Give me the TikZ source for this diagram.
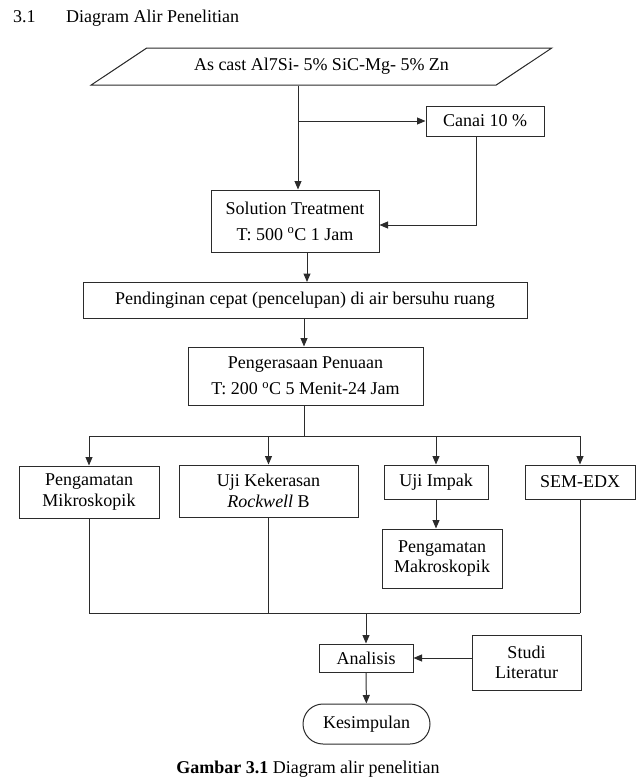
\documentclass[tikz,border=0pt]{standalone}
\usepackage{fontspec}
\setmainfont{Liberation Serif}
\usetikzlibrary{arrows.meta,shapes.geometric,shapes.misc}
\definecolor{ink}{HTML}{2B2B2B}
\tikzset{
  >={Triangle[length=8.5pt,width=7pt]},
  proc/.style   ={draw=ink,line width=1pt,fill=white,
                  font=\fontsize{18}{20.5}\selectfont,align=center,inner sep=0pt},
  procwide/.style={proc,font=\fontsize{18}{26}\selectfont},
  io/.style     ={proc,trapezium,trapezium left angle=22,
                  trapezium right angle=158,trapezium stretches=true},
  term/.style   ={proc,rounded rectangle},
  lbl/.style    ={font=\fontsize{18}{20.5}\selectfont,inner sep=0pt},
  flow/.style   ={->,draw=ink,line width=1pt},
  link/.style   ={draw=ink,line width=1pt},
}

\begin{document}
\begin{tikzpicture}[x=1pt,y=-1pt]
\useasboundingbox (0,0) rectangle (644,779);
\clip (0,0) rectangle (644,779);
%---------------- heading
\node[lbl,anchor=base west] (num) at (13,22) {3.1};
\node[lbl,anchor=base west] (ttl) at (66,22) {Diagram Alir Penelitian};
%---------------- upper chain
\node[io,minimum width=463pt,minimum height=37pt] (src) at (321.5,66.5) {As cast Al7Si- 5\% SiC-Mg- 5\% Zn};
\node[proc,minimum width=118pt,minimum height=30pt] (canai) at (485,121) {Canai 10 \%};
\node[procwide,minimum width=168pt,minimum height=62pt] (sol) at (295,221) {Solution Treatment\\T: 500 \textsuperscript{o}C 1 Jam};
\node[proc,minimum width=444pt,minimum height=36pt] (cool) at (305,300.5) {Pendinginan cepat (pencelupan) di air bersuhu ruang};
\node[procwide,minimum width=235pt,minimum height=58pt] (age) at (305.5,376) {Pengerasaan Penuaan\\T: 200 \textsuperscript{o}C 5 Menit-24 Jam};
\coordinate (j1) at (298,121);
\coordinate (j2) at (476,225);
\draw[flow] (src.south -| j1) -- (sol.north -| j1);
\draw[flow] (j1) -- (canai.west);
\draw[flow] (canai.south -| j2) -- (j2) -- (sol.east |- j2);
\draw[flow] (sol.south -| 307,0) -- (cool.north -| 307,0);
\draw[flow] (cool.south -| 304,0) -- (age.north -| 304,0);
%---------------- tests
\node[proc,minimum width=140pt,minimum height=52pt] (micro) at (89,492) {Pengamatan\\Mikroskopik};
\node[proc,minimum width=179pt,minimum height=52pt] (rockwell) at (268.5,491) {Uji Kekerasan\\\textit{Rockwell} B};
\node[proc,minimum width=104pt,minimum height=34pt] (impact) at (436,482) {Uji Impak};
\node[proc,minimum width=110pt,minimum height=34pt] (sem) at (580,482) {SEM-EDX};
\node[proc,minimum width=120pt,minimum height=59pt] (macro) at (442,558.5) {Pengamatan\\Makroskopik};
\coordinate (bL) at (89,436);
\coordinate (bR) at (580,436);
\draw[link] (age.south -| 304,0) -- (304,436);
\draw[link] (bL) -- (bR);
\foreach \n in {micro,rockwell,impact,sem}
  \draw[flow] (\n.north |- bL) -- (\n.north);
\draw[flow] (impact.south) -- (impact.south |- macro.north);
%---------------- collect
\coordinate (cL) at (89,613);
\coordinate (cR) at (580,613);
\foreach \n in {micro,rockwell,sem}
  \draw[link] (\n.south) -- (\n.south |- cL);
\draw[link] (cL) -- (cR);
\node[proc,minimum width=94pt,minimum height=28pt] (ana) at (366,658) {Analisis};
\node[proc,minimum width=109pt,minimum height=55pt] (studi) at (526.5,662.5) {Studi\\Literatur};
\node[term,minimum width=127pt,minimum height=40pt] (kes) at (366.5,724) {Kesimpulan};
\draw[flow] (ana.north |- cL) -- (ana.north);
\draw[flow] (studi.west |- ana) -- (ana.east);
\draw[flow] (ana) -- (kes);
%---------------- caption
\node[lbl,anchor=base] (cap) at (308,773) {\textbf{Gambar 3.1} Diagram alir penelitian};
\end{tikzpicture}
\end{document}
